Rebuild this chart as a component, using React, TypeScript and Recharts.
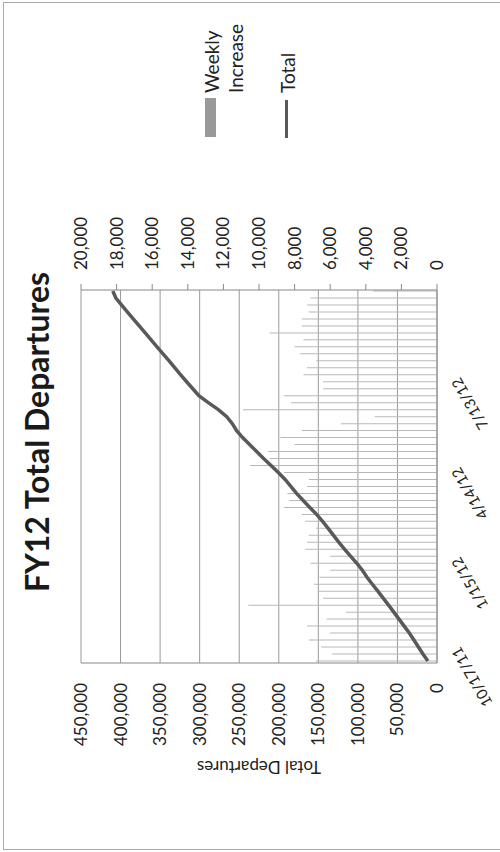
import React from "react";
import { ComposedChart, Bar, Line, XAxis, YAxis, CartesianGrid } from "recharts";

// weekly reporting dates
const weekDates = [
  "10/7/11", "10/14/11", "10/21/11", "10/28/11", "11/4/11", "11/11/11", "11/18/11", "11/25/11",
  "12/2/11", "12/9/11", "12/16/11", "12/23/11", "12/30/11", "1/6/12", "1/13/12", "1/20/12",
  "1/27/12", "2/3/12", "2/10/12", "2/17/12", "2/24/12", "3/2/12", "3/9/12", "3/16/12",
  "3/23/12", "3/30/12", "4/6/12", "4/13/12", "4/20/12", "4/27/12", "5/4/12", "5/11/12",
  "5/18/12", "5/25/12", "6/1/12", "6/8/12", "6/15/12", "6/22/12", "6/29/12", "7/6/12",
  "7/13/12", "7/20/12", "7/27/12", "8/3/12", "8/10/12", "8/17/12", "8/24/12", "8/31/12",
  "9/7/12", "9/14/12", "9/21/12", "9/28/12", "10/5/12", "10/12/12",
];

const totalDepartures = [
  11500, 17800, 23500, 29200, 35000, 41500, 48000, 54600,
  61200, 68000, 74800, 81700, 88500, 94300, 101400, 109000,
  116700, 124000, 130800, 137600, 144600, 152200, 160800, 169100,
  177500, 184800, 192000, 200600, 209800, 219200, 228000, 236900,
  245700, 253300, 258700, 265800, 276400, 289100, 301000, 308700,
  316500, 324000, 331300, 338600, 346300, 353900, 361400, 368800,
  376400, 384000, 391500, 398800, 405900, 409800,
];

const weeklyIncrease = [
  6800, 5900, 6500, 7200, 6000, 7300, 6200, 5100,
  10600, 6400, 6700, 6900, 6600, 6000, 7100, 6000,
  7400, 7300, 7200, 6800, 7400, 7600, 8600, 8300,
  8400, 7300, 7200, 8600, 10500, 9400, 9500, 8000,
  8800, 7600, 5400, 3500, 10900, 8200, 8600, 6400,
  6400, 7500, 7300, 6800, 7700, 8000, 7500, 9400,
  7600, 7600, 7200, 7300, 7100, 3600,
];

const leftTicks = [0, 50000, 100000, 150000, 200000, 250000, 300000, 350000, 400000, 450000];
const rightTicks = [0, 2000, 4000, 6000, 8000, 10000, 12000, 14000, 16000, 18000, 20000];
const dateTickLabels = ["10/17/11", "1/15/12", "4/14/12", "7/13/12"];

// days since 10/17/11
const BASE = Date.UTC(2011, 9, 17);
function dayOf(s: string): number {
  const [m, d, y] = s.split("/").map(Number);
  return Math.round((Date.UTC(2000 + y, m - 1, d) - BASE) / 86400000);
}

const data = weekDates.map((d, i) => ({
  day: dayOf(d),
  total: totalDepartures[i],
  weekly: weeklyIncrease[i],
}));

const dateTicks = dateTickLabels.map(dayOf);
const fmt = (v: number) => v.toLocaleString("en-US");

const FONT = "Lato, 'Open Sans', sans-serif";

export default function App() {
  return (
    <div style={{ position: "fixed", left: 0, top: 0, width: 500, height: 852, overflow: "hidden", background: "#fff" }}>
      {/* chart is drawn landscape, then turned a quarter turn counter-clockwise */}
      <div
        style={{
          position: "absolute",
          left: 0,
          top: 0,
          width: 852,
          height: 500,
          transformOrigin: "0 0",
          transform: "translate(0px, 852px) rotate(-90deg)",
          fontFamily: FONT,
          color: "#222",
        }}
      >
        <div
          style={{
            position: "absolute",
            left: 2,
            top: 3,
            width: 846,
            height: 520,
            borderTop: "1px solid #aaa",
            borderLeft: "1px solid #aaa",
            borderRight: "1px solid #aaa",
          }}
        />
        <div
          style={{
            position: "absolute",
            left: 0,
            top: 19,
            width: 840,
            textAlign: "center",
            fontSize: 32,
            fontWeight: 700,
            lineHeight: "36px",
            color: "#1a1a1a",
          }}
        >
          FY12 Total Departures
        </div>

        <ComposedChart
          width={852}
          height={500}
          data={data}
          margin={{ top: 81, right: 210, bottom: 13, left: 79 }}
        >
          <CartesianGrid yAxisId="left" vertical={false} stroke="#9a9a9a" />
          <XAxis
            dataKey="day"
            type="number"
            domain={[-12, 362]}
            ticks={dateTicks}
            tickFormatter={(v) => dateTickLabels[dateTicks.indexOf(v)] ?? ""}
            allowDataOverflow
            height={50}
            angle={-30}
            textAnchor="end"
            tickSize={4}
            tickMargin={10}
            tick={{ fontSize: 15, fill: "#222" }}
            axisLine={{ stroke: "#888" }}
            tickLine={false}
          />
          <YAxis
            yAxisId="left"
            domain={[0, 450000]}
            ticks={leftTicks}
            tickFormatter={fmt}
            width={110}
            tickSize={0}
            tickMargin={20}
            tickLine={false}
            axisLine={{ stroke: "#888" }}
            tick={{ fontSize: 17, fill: "#222" }}
            label={{
              value: "Total Departures",
              angle: -90,
              position: "insideLeft",
              offset: 6,
              style: { textAnchor: "middle", fontSize: 17, fill: "#222" },
            }}
          />
          <YAxis
            yAxisId="right"
            orientation="right"
            domain={[0, 20000]}
            ticks={rightTicks}
            tickFormatter={fmt}
            width={80}
            tickSize={6}
            tickMargin={14}
            axisLine={{ stroke: "#888" }}
            tickLine={{ stroke: "#888" }}
            tick={{ fontSize: 17, fill: "#222", textAnchor: "start" }}
          />
          <Bar yAxisId="right" dataKey="weekly" fill="#b8b8b8" barSize={1} isAnimationActive={false} />
          <Line
            yAxisId="left"
            type="linear"
            dataKey="total"
            stroke="#595959"
            strokeWidth={3.5}
            dot={false}
            isAnimationActive={false}
          />
        </ComposedChart>

        {/* legend */}
        <div style={{ position: "absolute", left: 715, top: 205, width: 39, height: 11, background: "#999" }} />
        <div style={{ position: "absolute", left: 759, top: 200, fontSize: 19, lineHeight: "24px" }}>
          Weekly
          <br />
          Increase
        </div>
        <div style={{ position: "absolute", left: 714, top: 285, width: 38, height: 3, background: "#595959" }} />
        <div style={{ position: "absolute", left: 759, top: 276, fontSize: 19, lineHeight: "24px" }}>Total</div>
      </div>
    </div>
  );
}
